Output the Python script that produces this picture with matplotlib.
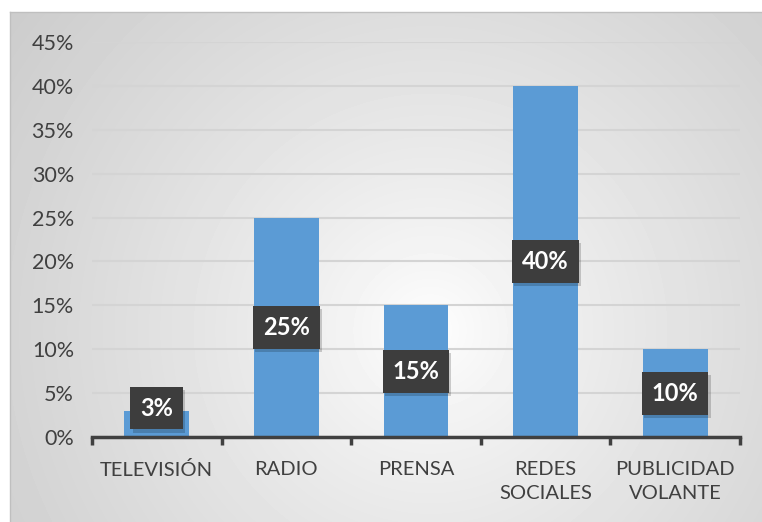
import numpy as np
import matplotlib.pyplot as plt
from matplotlib import patheffects

categorias = ["TELEVISIÓN", "RADIO", "PRENSA", "REDES\nSOCIALES", "PUBLICIDAD\nVOLANTE"]
porcentajes = [3, 25, 15, 40, 10]
marcas_y = [0, 5, 10, 15, 20, 25, 30, 35, 40, 45]

plt.rcParams["font.family"] = ["Lato", "DejaVu Sans"]
texto = "#404040"

fig = plt.figure(figsize=(7.62, 5.22), dpi=100)

# fondo con degradado radial del area del grafico
fondo = fig.add_axes([10 / 762, 0, 752 / 762, 1 - 12 / 522])
h, w = 510, 752
yy, xx = np.mgrid[0:h, 0:w]
r = np.hypot(xx - 420, yy - 318) / 527
gris = 1 - 0.2 * np.clip(r, 0, 1.2) ** 0.8
fondo.imshow(gris, cmap="gray", vmin=0, vmax=1, aspect="auto", interpolation="bilinear")
fondo.set_xticks([])
fondo.set_yticks([])
for lado in fondo.spines.values():
    lado.set_color("#bfbfbf")
    lado.set_linewidth(1)
fondo.spines["right"].set_visible(False)
fondo.spines["bottom"].set_visible(False)

ax = fig.add_axes([92 / 762, 1 - 437 / 522, 648 / 762, 395 / 522])
ax.patch.set_alpha(0)
x = np.arange(len(categorias))
ax.bar(x, porcentajes, width=0.5, color="#5b9bd5", zorder=2)
ax.set_xlim(-0.5, len(categorias) - 0.5)
ax.set_ylim(0, 45)
ax.set_yticks(marcas_y)
ax.set_yticklabels([f"{v}%" for v in marcas_y])
ax.yaxis.grid(True, color="#d4d4d4", linewidth=1.5, zorder=0)
ax.set_axisbelow(True)
ax.tick_params(axis="y", length=0, pad=13, labelsize=15.5, labelcolor=texto)

ax.set_xticks(x)
ax.set_xticklabels(categorias, linespacing=1.55)
ax.set_xticks(np.arange(len(categorias) + 1) - 0.5, minor=True)
ax.tick_params(axis="x", which="major", length=0, pad=17, labelsize=14.5, labelcolor=texto)
ax.tick_params(axis="x", which="minor", length=6, width=2.5, color="#404040", direction="out")

for lado in ["top", "right", "left"]:
    ax.spines[lado].set_visible(False)
ax.spines["bottom"].set_color("#404040")
ax.spines["bottom"].set_linewidth(2.5)

# etiquetas de datos en cajas oscuras con sombra suave
for xi, v in zip(x, porcentajes):
    t = ax.text(xi, max(v / 2, 3.3), f"{v}%", ha="center", va="center",
                color="white", fontsize=17, fontweight="bold", zorder=4,
                bbox=dict(boxstyle="square,pad=0.42", facecolor="#3d3d3d",
                          edgecolor="none"))
    t.get_bbox_patch().set_path_effects([
        patheffects.SimplePatchShadow(offset=(1.5, -2.5), shadow_rgbFace="black", alpha=0.18),
        patheffects.Normal(),
    ])

fig.savefig("out.png", dpi=100)
